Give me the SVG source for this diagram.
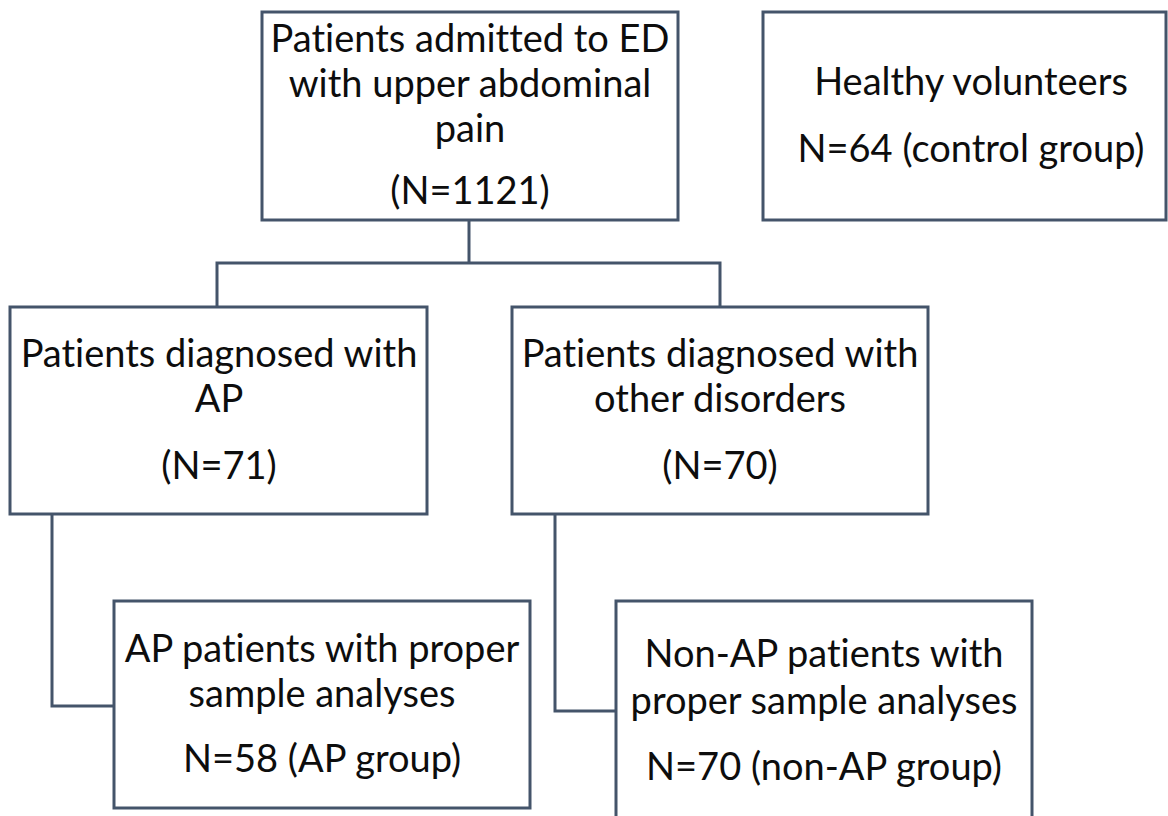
<svg xmlns="http://www.w3.org/2000/svg" width="1168" height="816" viewBox="0 0 1168 816">
<style>
.box{fill:#ffffff;stroke:#44546a;stroke-width:3}
.conn{fill:none;stroke:#44546a;stroke-width:3}
text{font-family:Lato,"Open Sans",sans-serif;font-size:38px;fill:#0d0d0d;text-anchor:middle;font-variant-ligatures:none}
</style>
<rect width="1168" height="816" fill="#ffffff"/>
<g id="connectors">
<polyline class="conn" points="469,220 469,263"/>
<polyline class="conn" points="217,307 217,263 720,263 720,307"/>
<polyline class="conn" points="52,514 52,706 114,706"/>
<polyline class="conn" points="555,514 555,711 616,711"/>
</g>
<g id="n-admitted">
<rect class="box" x="262" y="12" width="416" height="208"/>
<text x="470" y="52">Patients admitted to ED</text>
<text x="470" y="97">with upper abdominal</text>
<text x="470" y="142">pain</text>
<text x="470" y="204">(N=1121)</text>
</g>
<g id="n-healthy">
<rect class="box" x="763" y="12" width="403" height="208"/>
<text x="971" y="95">Healthy volunteers</text>
<text x="971" y="162">N=64 (control group)</text>
</g>
<g id="n-ap">
<rect class="box" x="10" y="307" width="417" height="207"/>
<text x="219" y="367">Patients diagnosed with</text>
<text x="219" y="412">AP</text>
<text x="219" y="479">(N=71)</text>
</g>
<g id="n-other">
<rect class="box" x="512" y="307" width="416" height="207"/>
<text x="720" y="367">Patients diagnosed with</text>
<text x="720" y="412">other disorders</text>
<text x="720" y="479">(N=70)</text>
</g>
<g id="n-apgroup">
<rect class="box" x="114" y="601" width="416" height="207"/>
<text x="322" y="662">AP patients with proper</text>
<text x="322" y="707">sample analyses</text>
<text x="322" y="772">N=58 (AP group)</text>
</g>
<g id="n-nonap">
<rect class="box" x="616" y="601" width="416" height="230"/>
<text x="824" y="667">Non-AP patients with</text>
<text x="824" y="714">proper sample analyses</text>
<text x="824" y="780">N=70 (non-AP group)</text>
</g>
</svg>
